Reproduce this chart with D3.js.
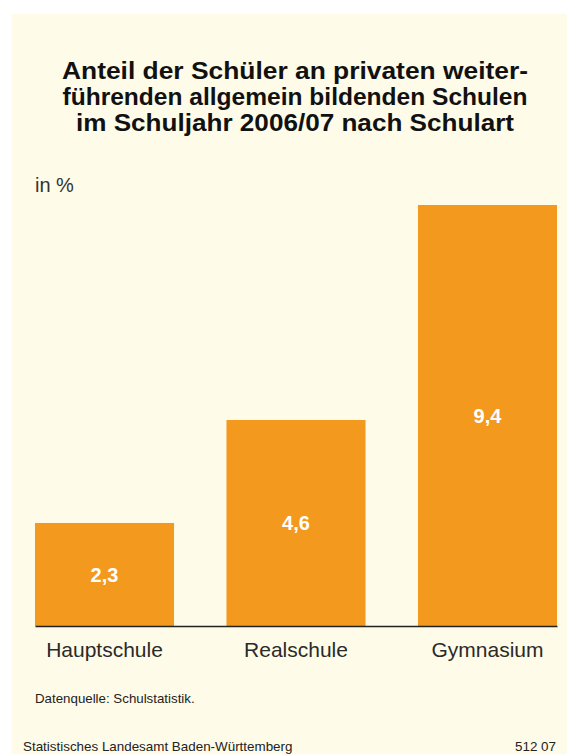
<!DOCTYPE html>
<html>
<head>
<meta charset="utf-8">
<script src="https://cdn.jsdelivr.net/npm/d3@7"></script>
<style>
  body { margin: 0; background: #ffffff; }
  svg { display: block; font-family: "Liberation Sans", Arial, sans-serif; }
</style>
</head>
<body>
<div class="chart"></div>
<script>
var categories = ["Hauptschule", "Realschule", "Gymnasium"];
var values = [2.3, 4.6, 9.4];
var titleLines = [
  "Anteil der Schüler an privaten weiter-",
  "führenden allgemein bildenden Schulen",
  "im Schuljahr 2006/07 nach Schulart"
];

var W = 567, H = 754;

var svg = d3.select(".chart").append("svg")
  .attr("width", W).attr("height", H);

// panel
svg.append("rect").attr("x", 12).attr("y", 14)
  .attr("width", W - 12).attr("height", H - 14)
  .attr("fill", "#fefbe8");

var x = d3.scaleBand().domain(categories).range([35, 557])
  .paddingInner(0.274).paddingOuter(0);
var y = d3.scaleLinear().domain([0, 9.4]).range([626, 205]);

// title
svg.append("text")
  .attr("text-anchor", "middle")
  .attr("font-weight", "bold")
  .attr("font-size", 24)
  .attr("fill", "#111")
  .selectAll("tspan").data(titleLines).enter().append("tspan")
  .attr("x", 295).attr("y", function(d, i) { return 79 + i * 26; })
  .attr("textLength", function(d, i) { return [466, 465, 438][i]; })
  .attr("lengthAdjust", "spacingAndGlyphs")
  .text(function(d) { return d; });

svg.append("text").attr("x", 35).attr("y", 192)
  .attr("font-size", 20).attr("fill", "#333").text("in %");

// bars
svg.selectAll("rect.bar").data(values).enter().append("rect")
  .attr("class", "bar")
  .attr("x", function(d, i) { return x(categories[i]); })
  .attr("y", function(d) { return y(d); })
  .attr("width", x.bandwidth())
  .attr("height", function(d) { return y(0) - y(d); })
  .attr("fill", "#f3991d");

svg.selectAll("text.val").data(values).enter().append("text")
  .attr("class", "val")
  .attr("x", function(d, i) { return x(categories[i]) + x.bandwidth() / 2; })
  .attr("y", function(d) { return (y(d) + y(0)) / 2; })
  .attr("dy", "0.36em")
  .attr("text-anchor", "middle")
  .attr("font-weight", "bold").attr("font-size", 20).attr("fill", "#fff")
  .text(function(d) { return String(d).replace(".", ","); });

// axis
var xAxis = d3.axisBottom(x).tickSize(0).tickPadding(16);
var gx = svg.append("g").attr("transform", "translate(0," + y(0) + ")").call(xAxis);
gx.select(".domain").attr("stroke", "#222").attr("stroke-width", 1.6);
gx.selectAll("text").attr("font-size", 21).attr("fill", "#2a2a2a")
  .attr("font-family", "Liberation Sans, Arial, sans-serif");

svg.append("text").attr("x", 35).attr("y", 703)
  .attr("font-size", 13.3).attr("fill", "#222").text("Datenquelle: Schulstatistik.");
svg.append("text").attr("x", 23).attr("y", 751)
  .attr("font-size", 13.4).attr("fill", "#222").text("Statistisches Landesamt Baden-Württemberg");
svg.append("text").attr("x", 556).attr("y", 751).attr("text-anchor", "end")
  .attr("font-size", 13.4).attr("fill", "#222").text("512 07");
</script>
</body>
</html>
